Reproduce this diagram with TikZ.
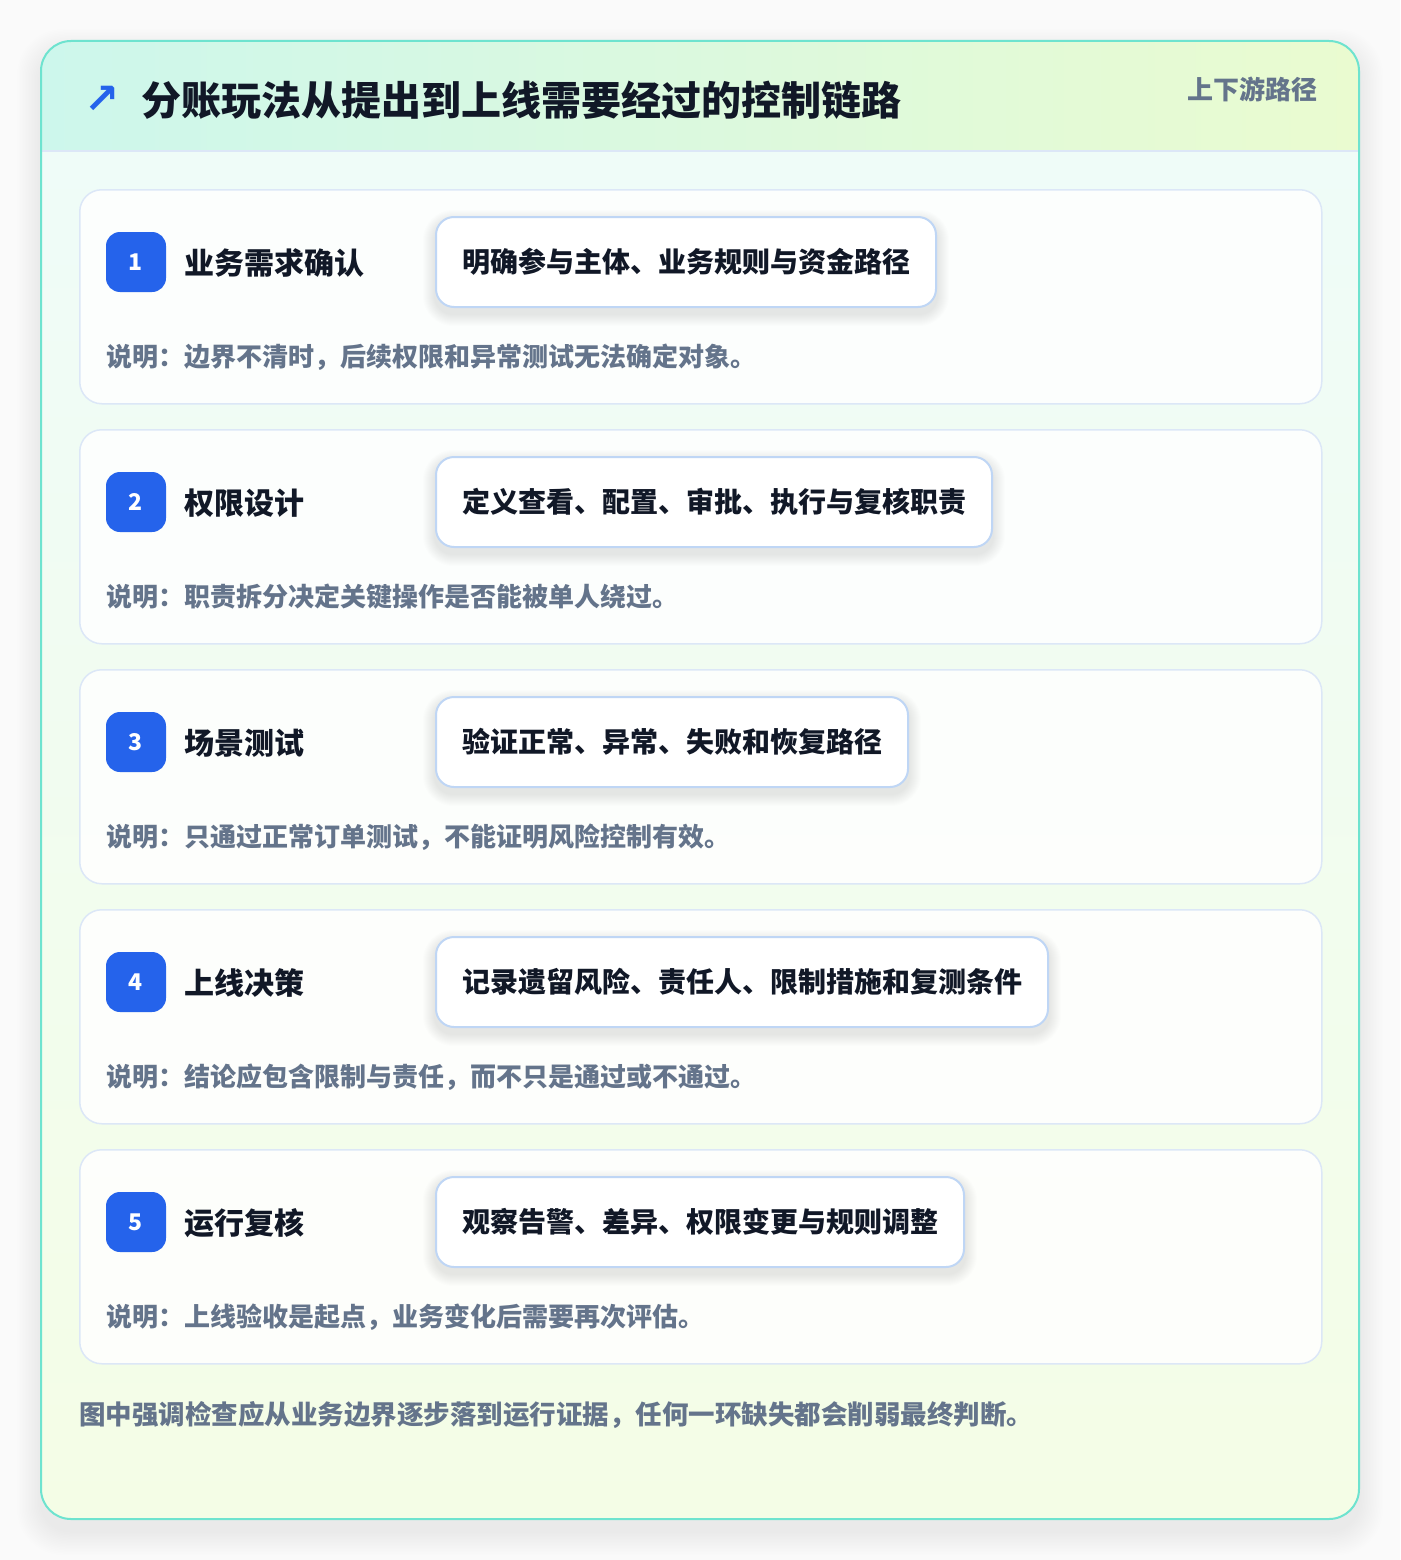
\documentclass[tikz,border=0pt]{standalone}
\usepackage{fontspec}
\setmainfont{Noto Sans CJK SC}
\newfontfamily\symfont{DejaVu Sans}
\definecolor{pagebg}{HTML}{FAFAFA}
\definecolor{tealline}{HTML}{6EE3CF}
\definecolor{headl}{HTML}{CDF7EC}
\definecolor{headr}{HTML}{EAFBD0}
\definecolor{bodytop}{HTML}{EFFCF8}
\definecolor{bodybot}{HTML}{F4FDE6}
\definecolor{cardline}{HTML}{DCE7F7}
\definecolor{pillline}{HTML}{BFD6F5}
\definecolor{badgeblue}{HTML}{2563EB}
\definecolor{ink}{HTML}{111827}
\definecolor{muted}{HTML}{64748B}
\pgfdeclarelayer{back}
\pgfdeclarelayer{pshadow}
\pgfsetlayers{back,pshadow,main}
\tikzset{
  stepcard/.style={draw=cardline, line width=1.5pt, fill=white, fill opacity=0.85, draw opacity=1, rounded corners=22pt, minimum width=1242pt, minimum height=214pt, anchor=north west, inner sep=0pt},
  badgebox/.style={fill=badgeblue, rounded corners=14pt, minimum width=60pt, minimum height=60pt, inner sep=0pt, text=white, font=\bfseries\fontsize{23}{23}\selectfont},
  steptitle/.style={anchor=west, inner sep=0pt, text=ink, font=\bfseries\fontsize{30}{30}\selectfont},
  pillbox/.style={anchor=west, draw=pillline, line width=2pt, fill=white, rounded corners=18pt, minimum height=90pt, inner xsep=26pt, inner ysep=0pt, text=ink, font=\bfseries\fontsize{28}{28}\selectfont},
  desctext/.style={anchor=west, inner sep=0pt, text=muted, font=\bfseries\fontsize{26}{26}\selectfont},
  softshade/.style={fill=black, fill opacity=0.006},
}
\begin{document}
\begin{tikzpicture}[x=1pt,y=-1pt]
\useasboundingbox (0,0) rectangle (1400,1560);
\begin{pgfonlayer}{back}
\fill[pagebg] (0,0) rectangle (1400,1560);
\foreach \k in {1,...,16}{
  \fill[black, fill opacity=0.005, rounded corners=30pt+\k pt] (41-\k*1.5,41-\k*1.5+12) rectangle (1359+\k*1.5,1519+\k*1.5+12);
}
\begin{scope}
  \clip[rounded corners=30pt] (41,41) rectangle (1359,1519);
  \shade[top color=bodytop, bottom color=bodybot] (41,151) rectangle (1359,1519);
  \shade[left color=headl, right color=headr] (41,41) rectangle (1359,151);
  \draw[cardline, line width=1.5pt] (41,151) -- (1359,151);
\end{scope}
\draw[tealline, line width=2pt, rounded corners=30pt] (41,41) rectangle (1359,1519);
\end{pgfonlayer}

\node[anchor=west, inner sep=0pt, text=badgeblue, font=\symfont\bfseries\fontsize{42}{42}\selectfont] (arrow) at (84,100) {↗};
\node[anchor=west, inner sep=0pt, text=ink, font=\bfseries\fontsize{40}{40}\selectfont] (title) at (141,100) {分账玩法从提出到上线需要经过的控制链路};
\node[anchor=east, inner sep=0pt, text=muted, font=\bfseries\fontsize{26}{26}\selectfont] (tag) at (1318,89) {上下游路径};

\foreach \i/\name/\pill/\desc in {
  1/业务需求确认/明确参与主体、业务规则与资金路径/说明：边界不清时，后续权限和异常测试无法确定对象。,
  2/权限设计/定义查看、配置、审批、执行与复核职责/说明：职责拆分决定关键操作是否能被单人绕过。,
  3/场景测试/验证正常、异常、失败和恢复路径/说明：只通过正常订单测试，不能证明风险控制有效。,
  4/上线决策/记录遗留风险、责任人、限制措施和复测条件/说明：结论应包含限制与责任，而不只是通过或不通过。,
  5/运行复核/观察告警、差异、权限变更与规则调整/说明：上线验收是起点，业务变化后需要再次评估。}{
  \pgfmathsetmacro{\yy}{189+(\i-1)*240}
  \begin{pgfonlayer}{back}
    \node[stepcard] (card\i) at (79,\yy) {};
  \end{pgfonlayer}
  \node[badgebox] (badge\i) at (136,\yy+73) {\i};
  \node[steptitle] (stitle\i) at (184,\yy+74) {\name};
  \node[pillbox] (pill\i) at (435,\yy+73) {\pill};
  \node[desctext] (desc\i) at (106,\yy+168) {\desc};
  \begin{pgfonlayer}{pshadow}
    \foreach \k in {1,...,12}{
      \fill[softshade, rounded corners=18pt+\k pt] ([xshift=-\k pt, yshift=\k pt-6pt]pill\i.north west) rectangle ([xshift=\k pt, yshift=-\k pt-6pt]pill\i.south east);
    }
  \end{pgfonlayer}
}

\node[desctext, font=\bfseries\fontsize{26.5}{26.5}\selectfont] (foot) at (79,1415) {图中强调检查应从业务边界逐步落到运行证据，任何一环缺失都会削弱最终判断。};
\end{tikzpicture}
\end{document}
